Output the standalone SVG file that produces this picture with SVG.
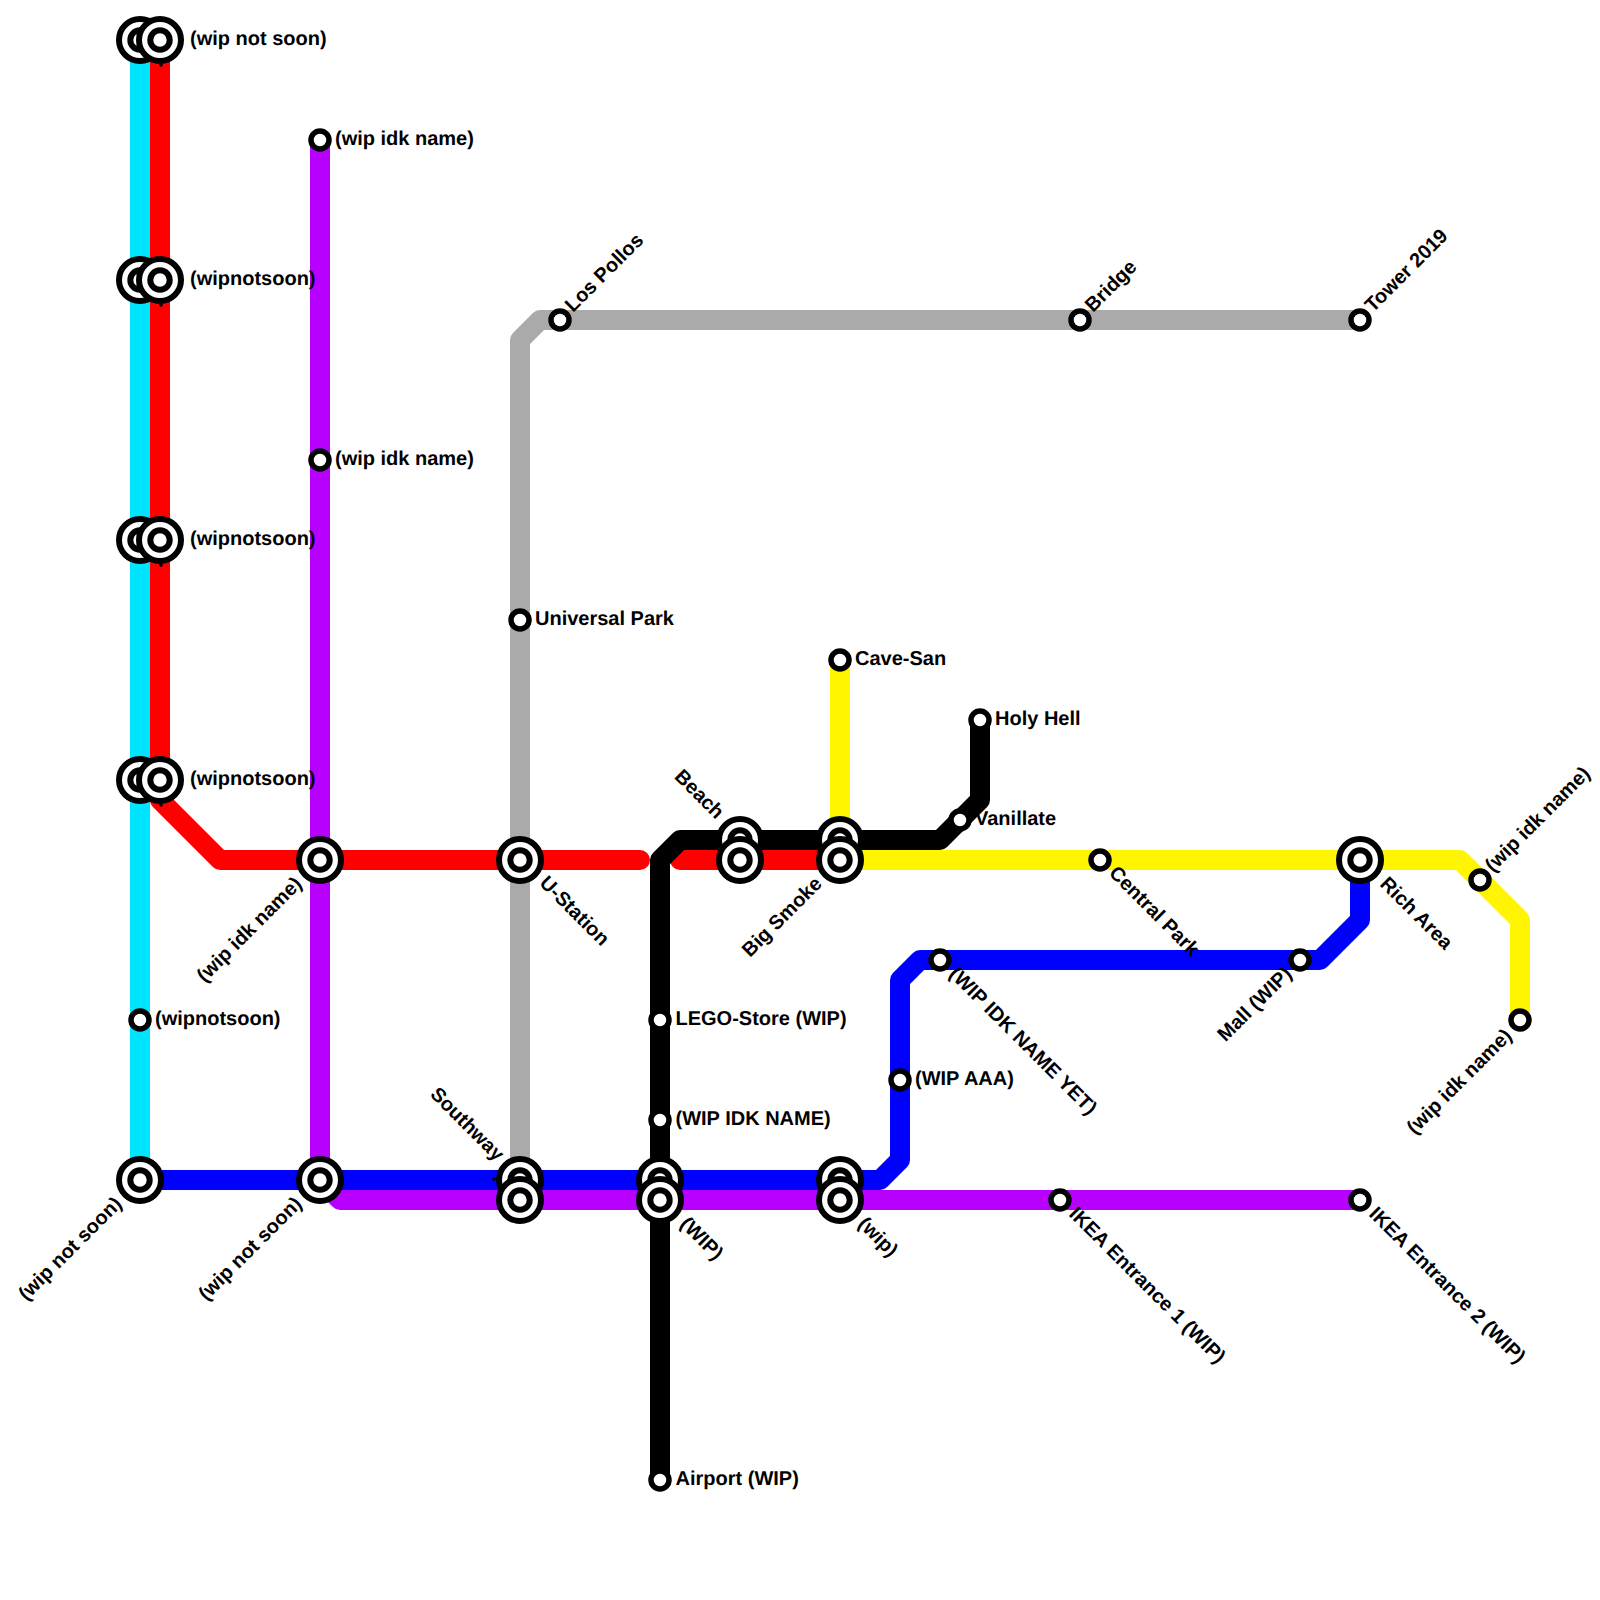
<svg xmlns="http://www.w3.org/2000/svg" width="1600" height="1600" viewBox="0 0 1600 1600">
<style>
.l{fill:none;stroke-width:20;stroke-linecap:round;stroke-linejoin:round}
.t{font-family:"Liberation Sans",Arial,sans-serif;font-weight:700;font-size:20px;fill:#000;text-rendering:geometricPrecision}
.e{text-anchor:end}
.o{fill:#fff;stroke:#000;stroke-width:6}
.i{fill:#fff;stroke:#000;stroke-width:6}
.s{fill:#fff;stroke:#000;stroke-width:5.5}
.m{fill:none;stroke:#000;stroke-width:1.5}
</style>
<defs>
<g id="ic"><circle class="o" r="21"/><circle class="i" r="9.7"/></g>
<circle id="st" class="s" r="9"/>
<path id="mk" class="m" d="M-2 0H2M0 -2V2"/>
</defs>
<rect width="1600" height="1600" fill="#fff"/>
<g id="connectors">
<path class="l" stroke="#00e5ff" d="M140 40V1180"/>
<path class="l" stroke="#aaa" d="M520 1180V340L540 320H1360"/>
<path class="l" stroke="#b700ff" d="M320 140V1180L340 1200H1360"/>
<path class="l" stroke="#f00" d="M160 40V800L220 860H640M680 860H840"/>
<path class="l" stroke="#fff500" d="M840 660V840M840 860H1460L1520 920V1020"/>
<path class="l" stroke="#00f" d="M140 1180H880L900 1160V980L920 960H1320L1360 920V860"/>
<path class="l" stroke="#000" d="M660 1480V860L680 840H940L980 800V720"/>
</g>
<g id="labels">
<text class="t" x="190" y="45">(wip not soon)</text>
<text class="t" x="190" y="285">(wipnotsoon)</text>
<text class="t" x="190" y="545">(wipnotsoon)</text>
<text class="t" x="190" y="785">(wipnotsoon)</text>
<text class="t" x="155" y="1025">(wipnotsoon)</text>
<text class="t" x="335" y="145">(wip idk name)</text>
<text class="t" x="335" y="465">(wip idk name)</text>
<text class="t" x="535" y="625">Universal Park</text>
<text class="t" x="855" y="665">Cave-San</text>
<text class="t" x="995" y="725">Holy Hell</text>
<text class="t" x="975" y="825">Vanillate</text>
<text class="t" x="675.5" y="1025">LEGO-Store (WIP)</text>
<text class="t" x="675.5" y="1125">(WIP IDK NAME)</text>
<text class="t" x="675.5" y="1485">Airport (WIP)</text>
<text class="t" x="915" y="1085">(WIP AAA)</text>
<text class="t" transform="translate(573 313) rotate(-45)">Los Pollos</text>
<text class="t" transform="translate(1093 313) rotate(-45)">Bridge</text>
<text class="t" transform="translate(1373 313) rotate(-45)">Tower 2019</text>
<text class="t" transform="translate(1493 873) rotate(-45)">(wip idk name)</text>
<text class="t e" transform="translate(303 885) rotate(-45)">(wip idk name)</text>
<text class="t e" transform="translate(123 1205) rotate(-45)">(wip not soon)</text>
<text class="t e" transform="translate(303 1205) rotate(-45)">(wip not soon)</text>
<text class="t e" transform="translate(823 885) rotate(-45)">Big Smoke</text>
<text class="t e" transform="translate(1293 975) rotate(-45)">Mall (WIP)</text>
<text class="t e" transform="translate(1513 1037) rotate(-45)">(wip idk name)</text>
<text class="t e" transform="translate(716 820) rotate(45)">Beach</text>
<text class="t e" transform="translate(496 1162) rotate(45)">Southway</text>
<text class="t" transform="translate(538.5 884) rotate(45)">U-Station</text>
<text class="t" transform="translate(1108 874) rotate(45)">Central Park</text>
<text class="t" transform="translate(1379 885) rotate(45)">Rich Area</text>
<text class="t" transform="translate(948 975) rotate(45)">(WIP IDK NAME YET)</text>
<text class="t" transform="translate(679 1225) rotate(45)">(WIP)</text>
<text class="t" transform="translate(857 1225) rotate(45)">(wip)</text>
<text class="t" transform="translate(1068 1215) rotate(45)">IKEA Entrance 1 (WIP)</text>
<text class="t" transform="translate(1368 1215) rotate(45)">IKEA Entrance 2 (WIP)</text>
</g>
<g id="marks">
<use href="#mk" x="161" y="65"/><use href="#mk" x="161" y="305"/><use href="#mk" x="161" y="565"/><use href="#mk" x="161" y="805"/><use href="#mk" x="494" y="1179"/>
</g>
<g id="s1"><use href="#ic" x="140" y="40"/></g>
<g id="s2"><use href="#ic" x="160" y="40"/></g>
<g id="s3"><use href="#ic" x="140" y="280"/></g>
<g id="s4"><use href="#ic" x="160" y="280"/></g>
<g id="s5"><use href="#ic" x="140" y="540"/></g>
<g id="s6"><use href="#ic" x="160" y="540"/></g>
<g id="s7"><use href="#ic" x="140" y="780"/></g>
<g id="s8"><use href="#ic" x="160" y="780"/></g>
<g id="s9"><use href="#st" x="140" y="1020"/></g>
<g id="s10"><use href="#ic" x="140" y="1180"/></g>
<g id="s11"><use href="#st" x="320" y="140"/></g>
<g id="s12"><use href="#st" x="320" y="460"/></g>
<g id="s13"><use href="#ic" x="320" y="860"/></g>
<g id="s14"><use href="#ic" x="320" y="1180"/></g>
<g id="s15"><use href="#st" x="560" y="320"/></g>
<g id="s16"><use href="#st" x="1080" y="320"/></g>
<g id="s17"><use href="#st" x="1360" y="320"/></g>
<g id="s18"><use href="#st" x="520" y="620"/></g>
<g id="s19"><use href="#ic" x="520" y="860"/></g>
<g id="s20"><use href="#ic" x="520" y="1180"/></g>
<g id="s21"><use href="#ic" x="520" y="1200"/></g>
<g id="s22"><use href="#st" x="660" y="1020"/></g>
<g id="s23"><use href="#st" x="660" y="1120"/></g>
<g id="s24"><use href="#ic" x="660" y="1180"/></g>
<g id="s25"><use href="#ic" x="660" y="1200"/></g>
<g id="s26"><use href="#st" x="660" y="1480"/></g>
<g id="s27"><use href="#ic" x="740" y="840"/></g>
<g id="s28"><use href="#ic" x="740" y="860"/></g>
<g id="s29"><use href="#ic" x="840" y="840"/></g>
<g id="s30"><use href="#ic" x="840" y="860"/></g>
<g id="s31"><use href="#st" x="840" y="660"/></g>
<g id="s32"><use href="#st" x="980" y="720"/></g>
<g id="s33"><use href="#st" x="960" y="820"/></g>
<g id="s34"><use href="#st" x="1100" y="860"/></g>
<g id="s35"><use href="#ic" x="1360" y="860"/></g>
<g id="s36"><use href="#st" x="1480" y="880"/></g>
<g id="s37"><use href="#st" x="1520" y="1020"/></g>
<g id="s38"><use href="#st" x="940" y="960"/></g>
<g id="s39"><use href="#st" x="1300" y="960"/></g>
<g id="s40"><use href="#st" x="900" y="1080"/></g>
<g id="s41"><use href="#ic" x="840" y="1180"/></g>
<g id="s42"><use href="#ic" x="840" y="1200"/></g>
<g id="s43"><use href="#st" x="1060" y="1200"/></g>
<g id="s44"><use href="#st" x="1360" y="1200"/></g>
</svg>
